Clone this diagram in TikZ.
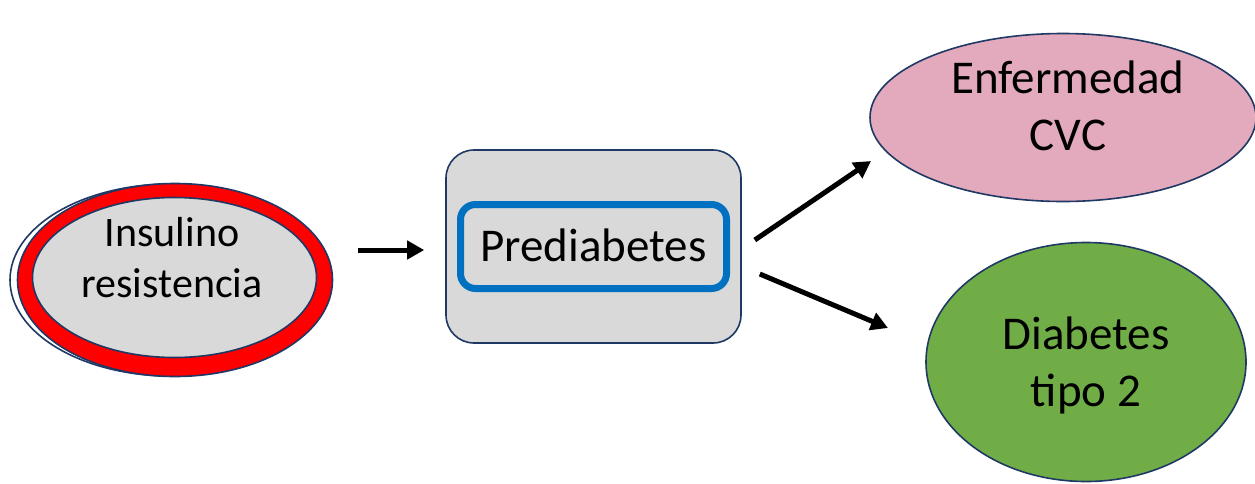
\documentclass[tikz,border=0pt]{standalone}
\usepackage{fontspec}
\setmainfont{Carlito}
\usetikzlibrary{shapes.geometric,arrows.meta}
\definecolor{navy}{HTML}{1F3864}
\definecolor{boxgray}{HTML}{D9D9D9}
\definecolor{ringblue}{HTML}{0070C0}
\definecolor{pinkfill}{HTML}{E2AABC}
\definecolor{greenfill}{HTML}{70AD47}
\begin{document}
\begin{tikzpicture}[x=1pt,y=-1pt,
  ell/.style={ellipse,draw=navy,line width=1.6pt,inner sep=0pt},
  txt/.style={align=center,inner sep=0pt,anchor=base,font=\fontsize{47}{57}\selectfont},
  arr/.style={line width=5pt,-{Triangle[length=17pt,width=18pt]}}]
\useasboundingbox (0,0) rectangle (1255,483);
% left ellipse group
\node[ell,minimum width=322pt,minimum height=192pt] (shadow) at (171,280) {};
\node[ell,fill=red,minimum width=315pt,minimum height=193pt] (ins) at (175,280) {};
\node[ell,fill=boxgray,minimum width=284pt,minimum height=160pt] (insin) at (174.5,277.5) {};
\node[txt,font=\fontsize{42}{50.5}\selectfont] (insT) at (172,297) {Insulino\\resistencia};
% middle box
\node[draw=navy,line width=1.6pt,fill=boxgray,rounded corners=28pt,minimum width=295pt,minimum height=193pt,inner sep=0pt] (pre) at (593.5,246.5) {};
\node[draw=ringblue,line width=7pt,rounded corners=15pt,minimum width=266pt,minimum height=84pt,inner sep=0pt] (prering) at (593.5,246.5) {};
\node[txt] (preT) at (593.5,261.7) {Prediabetes};
% right ellipses
\node[ell,fill=pinkfill,minimum width=386pt,minimum height=168pt] (cvc) at (1063,117.5) {};
\node[txt] (cvcT) at (1068,150) {Enfermedad\\CVC};
\node[ell,fill=greenfill,minimum width=320pt,minimum height=239pt] (dm) at (1086,362) {};
\node[txt] (dmT) at (1086,406.7) {Diabetes\\tipo 2};
% arrows
\draw[arr] ([shift={(25,-30)}]ins.east) -- ([shift={(-21,3.5)}]pre.west);
\draw[arr] ([shift={(13,-6.5)}]pre.east) -- ([shift={(-192,43.5)}]cvc.center);
\draw[arr] ([shift={(18,27.5)}]pre.east) -- ([shift={(-198,-34)}]dm.center);
\end{tikzpicture}
\end{document}
